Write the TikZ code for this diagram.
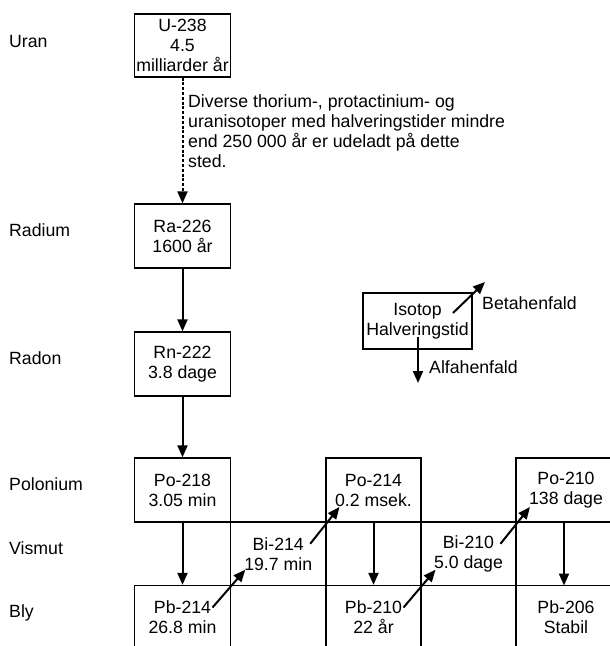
\documentclass[tikz,border=0pt]{standalone}
\usepackage{fontspec}
\setmainfont{Liberation Sans}
\usetikzlibrary{arrows.meta,calc}
\begin{document}
\begin{tikzpicture}[x=1pt,y=-1pt,
  every node/.style={font=\fontsize{17.7pt}{20pt}\selectfont, inner sep=0pt},
  isobox/.style={draw, line width=1.3pt, minimum width=96pt, minimum height=64pt, align=center},
  lbl/.style={anchor=base west},
  decay/.style={line width=2pt, -{Triangle[length=12pt,width=10pt]}},
  gap/.style={line width=2pt, dash pattern=on 3pt off 1.8pt, -{Triangle[length=12pt,width=10pt]}},
]
\useasboundingbox (0,0) rectangle (610,646);
\clip (0,0) rectangle (610,646);

% element labels
\node[lbl] (lU)  at (9,47)    {Uran};
\node[lbl] (lRa) at (9,236)   {Radium};
\node[lbl] (lRn) at (9,364)   {Radon};
\node[lbl] (lPo) at (9,490)   {Polonium};
\node[lbl] (lBi) at (9,554)   {Vismut};
\node[lbl] (lPb) at (9,617.5) {Bly};

% isotope boxes
\node[isobox, minimum height=63pt] (u238) at (182.5,45.5) {U-238\\4.5\\milliarder år};
\node[isobox] (ra226) at (182.5,236) {Ra-226\\1600 år};
\node[isobox] (rn222) at (182.5,364) {Rn-222\\3.8 dage};

\node[isobox] (po218) at (182.5,490) {Po-218\\3.05 min};
\node[isobox, minimum width=95.5pt, minimum height=63.5pt] (bi214) at (278.25,553.75) {Bi-214\\19.7 min};
\node[isobox] (pb214) at (182.5,617.5) {Pb-214\\26.8 min};
\node[isobox, minimum width=95pt] (po214) at (373.5,490) {Po-214\\0.2 msek.};
\node[isobox, minimum width=95pt] (pb210) at (373.5,617.5) {Pb-210\\22 år};
\node[isobox, minimum width=95pt, minimum height=63.5pt] (bi210) at (468.5,553.75) {Bi-210\\5.0 dage};
\node[isobox, minimum width=100pt] (po210) at (566,490) {Po-210\\138 dage};
\node[isobox, minimum width=100pt] (pb206) at (566,617.5) {Pb-206\\Stabil};

% note
\node[anchor=west, align=left] (note) at (188,131)
  {Diverse thorium-, protactinium- og\\uranisotoper med halveringstider mindre\\end 250 000 år er udeladt på dette\\sted.};

% chain
\draw[gap] (u238.south) -- (ra226.north);
\draw[decay] (ra226.south) -- (rn222.north);
\draw[decay] (rn222.south) -- (po218.north);
\draw[decay] (po218.south) -- (pb214.north);
\draw[decay] (po214.south) -- (pb210.north);
\draw[decay] ($(po210.center)+(-2,32)$) -- ($(pb206.center)+(-2,-32)$);
\draw[decay] ($(pb214.center)+(30,-10)$) -- ($(bi214.center)+(-33,16)$);
\draw[decay] ($(bi214.center)+(32,-10)$) -- ($(po214.center)+(-34,17)$);
\draw[decay] ($(pb210.center)+(30,-10)$) -- ($(bi210.center)+(-33,16)$);
\draw[decay] ($(bi210.center)+(32,-10)$) -- ($(po210.center)+(-36,17)$);

% legend
\node[isobox, minimum width=109pt, minimum height=56pt] (legend) at (417.5,321) {Isotop\\Halveringstid};
\coordinate (betaend) at (485,282);
\coordinate (alfaend) at (418,383);
\draw[decay] ($(legend.center)+(35.5,-8)$) -- (betaend);
\draw[decay] ($(legend.center)+(0.5,16)$) -- (alfaend);
\node[anchor=west] (betatxt) at (482,303) {Betahenfald};
\node[anchor=west] (alfatxt) at (429,367) {Alfahenfald};
\end{tikzpicture}
\end{document}
